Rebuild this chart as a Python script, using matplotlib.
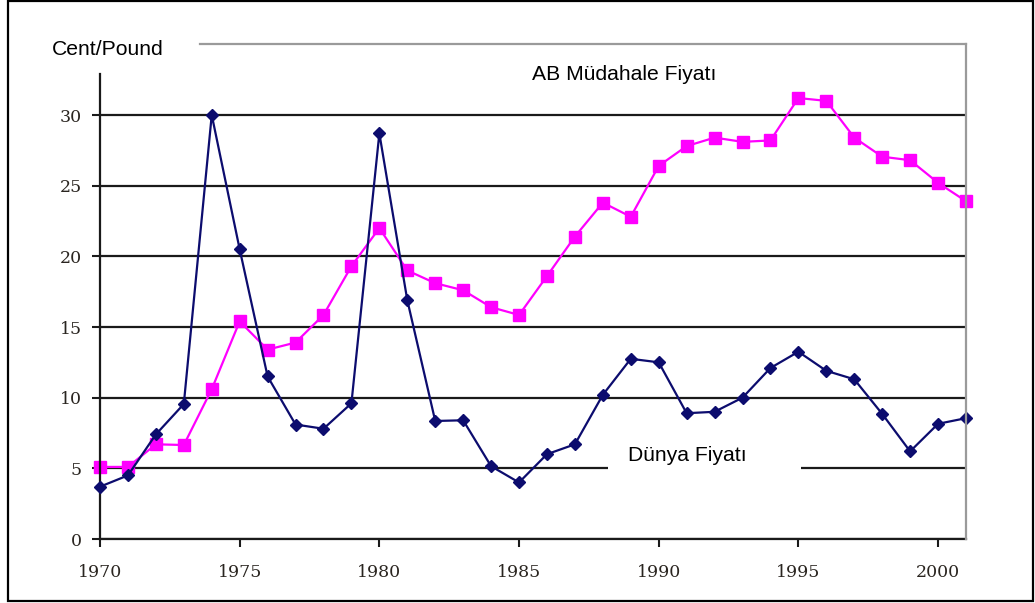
import matplotlib
matplotlib.use("Agg")
import matplotlib.pyplot as plt
from matplotlib.lines import Line2D
from matplotlib.patches import Rectangle

years = list(range(1970, 2002))
world_price = [3.7, 4.5, 7.4, 9.55, 30.0, 20.5, 11.5, 8.1, 7.8, 9.6,
               28.7, 16.9, 8.35, 8.4, 5.15, 4.0, 6.0, 6.7, 10.2, 12.75,
               12.5, 8.9, 9.0, 10.0, 12.1, 13.25, 11.9, 11.3, 8.85, 6.2,
               8.15, 8.55]
eu_price = [5.1, 5.1, 6.7, 6.65, 10.6, 15.4, 13.4, 13.9, 15.85, 19.3,
            22.0, 19.0, 18.1, 17.6, 16.4, 15.85, 18.6, 21.4, 23.8, 22.8,
            26.4, 27.8, 28.4, 28.1, 28.2, 31.2, 31.0, 28.4, 27.05, 26.8,
            25.2, 23.9]
x_ticks = [1970, 1975, 1980, 1985, 1990, 1995, 2000]
y_ticks = [0, 5, 10, 15, 20, 25, 30]
unit_label = "Cent/Pound"
eu_label = "AB Müdahale Fiyatı"
world_label = "Dünya Fiyatı"

W, H = 1035, 603
fig = plt.figure(figsize=(W / 100, H / 100), dpi=100)
fig.patch.set_facecolor("white")

def fx(px):
    return px / W

def fy(py):
    return 1 - py / H

ax_l, ax_r, ax_t, ax_b = 100, 966, 74, 539
ax = fig.add_axes([fx(ax_l), fy(ax_b), fx(ax_r - ax_l), (ax_b - ax_t) / H])
ymax = (ax_b - ax_t) / ((ax_b - 115) / 30.0)
ax.set_xlim(1970, 2001)
ax.set_ylim(0, ymax)
ax.set_axisbelow(True)

ax.set_yticks(y_ticks)
ax.set_xticks(x_ticks)
ax.yaxis.grid(True, color="#1a1a1a", linewidth=1.6)
ax.xaxis.grid(False)

for s in ["top", "right"]:
    ax.spines[s].set_visible(False)
ax.spines["left"].set_color("#1a1a1a")
ax.spines["left"].set_linewidth(1.6)
ax.spines["bottom"].set_color("#1a1a1a")
ax.spines["bottom"].set_linewidth(1.6)

tick_family = ["DejaVu Serif"]
ax.tick_params(axis="both", direction="out", length=6, width=1.5,
               color="#1a1a1a", labelcolor="#2a2520")
ax.tick_params(axis="y", pad=7)
ax.tick_params(axis="x", pad=12)
for lab in ax.get_xticklabels() + ax.get_yticklabels():
    lab.set_fontfamily(tick_family)
    lab.set_fontsize(12.5)

# white box behind "Dünya Fiyatı"
ax.add_patch(Rectangle((fx(608), fy(476)), fx(801 - 608), (476 - 428) / H,
                       transform=fig.transFigure, facecolor="white",
                       edgecolor="none", zorder=1.5))

ax.plot(years, world_price, color="#0c0c6e", linewidth=1.6, marker="D",
        markersize=6.5, markerfacecolor="#0c0c6e", markeredgecolor="#0c0c6e",
        zorder=3, clip_on=False)
ax.plot(years, eu_price, color="#ff00ff", linewidth=1.6, marker="s",
        markersize=8.5, markerfacecolor="#ff00ff", markeredgecolor="#ff00ff",
        zorder=2.5, clip_on=False)

# gray frame of the plot area (top and right)
fig.add_artist(Line2D([fx(200), fx(966)], [fy(44), fy(44)], color="#9a9a9a",
                      linewidth=1.6, transform=fig.transFigure))
fig.add_artist(Line2D([fx(966), fx(966)], [fy(44), fy(539)], color="#9a9a9a",
                      linewidth=1.6, transform=fig.transFigure))

# outer frame
fig.add_artist(Rectangle((fx(8), fy(601)), fx(1033 - 8), (601 - 1) / H,
                         transform=fig.transFigure, fill=False,
                         edgecolor="black", linewidth=1.6))

text_font = ["Liberation Sans", "DejaVu Sans"]
fig.text(fx(52), fy(55), unit_label, family=text_font, size=15.2,
         ha="left", va="baseline", color="black")
fig.text(fx(532), fy(80), eu_label, family=text_font, size=15.2,
         ha="left", va="baseline", color="black")
fig.text(fx(628), fy(461), world_label, family=text_font, size=15.2,
         ha="left", va="baseline", color="black", zorder=5)

fig.savefig("out.png", dpi=100)
